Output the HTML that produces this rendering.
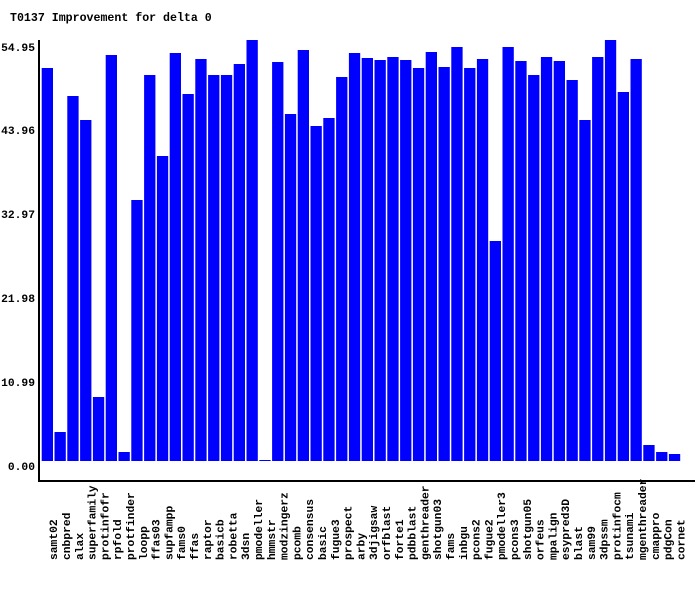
<!DOCTYPE html>
<html><head><meta charset="utf-8"><style>
html,body{margin:0;padding:0;background:#fff;}
svg{display:block;}
text{font-family:"Liberation Mono",monospace;font-weight:bold;fill:#000;}
</style></head><body>
<svg width="700" height="590" xmlns="http://www.w3.org/2000/svg">
<text x="10" y="21" font-size="11.6">T0137 Improvement for delta 0</text>
<g font-size="11.3" text-anchor="end">
<text x="35" y="51">54.95</text>
<text x="35" y="134">43.96</text>
<text x="35" y="218">32.97</text>
<text x="35" y="302">21.98</text>
<text x="35" y="386">10.99</text>
<text x="35" y="470">0.00</text>
</g>
<g fill="#0000ff">
<rect x="41.7" y="68" width="11.3" height="393"/>
<rect x="54.5" y="432" width="11.3" height="29"/>
<rect x="67.3" y="96" width="11.3" height="365"/>
<rect x="80.1" y="120" width="11.3" height="341"/>
<rect x="92.9" y="397" width="11.3" height="64"/>
<rect x="105.7" y="55" width="11.3" height="406"/>
<rect x="118.5" y="452" width="11.3" height="9"/>
<rect x="131.3" y="200" width="11.3" height="261"/>
<rect x="144.1" y="75" width="11.3" height="386"/>
<rect x="156.9" y="156" width="11.3" height="305"/>
<rect x="169.7" y="53" width="11.3" height="408"/>
<rect x="182.5" y="94" width="11.3" height="367"/>
<rect x="195.3" y="59" width="11.3" height="402"/>
<rect x="208.1" y="75" width="11.3" height="386"/>
<rect x="220.9" y="75" width="11.3" height="386"/>
<rect x="233.7" y="64" width="11.3" height="397"/>
<rect x="246.5" y="40" width="11.3" height="421"/>
<rect x="259.3" y="460" width="11.3" height="1"/>
<rect x="272.1" y="62" width="11.3" height="399"/>
<rect x="284.9" y="114" width="11.3" height="347"/>
<rect x="297.7" y="50" width="11.3" height="411"/>
<rect x="310.5" y="126" width="11.3" height="335"/>
<rect x="323.3" y="118" width="11.3" height="343"/>
<rect x="336.1" y="77" width="11.3" height="384"/>
<rect x="348.9" y="53" width="11.3" height="408"/>
<rect x="361.7" y="58" width="11.3" height="403"/>
<rect x="374.5" y="60" width="11.3" height="401"/>
<rect x="387.3" y="57" width="11.3" height="404"/>
<rect x="400.1" y="60" width="11.3" height="401"/>
<rect x="412.9" y="68" width="11.3" height="393"/>
<rect x="425.7" y="52" width="11.3" height="409"/>
<rect x="438.5" y="67" width="11.3" height="394"/>
<rect x="451.3" y="47" width="11.3" height="414"/>
<rect x="464.1" y="68" width="11.3" height="393"/>
<rect x="476.9" y="59" width="11.3" height="402"/>
<rect x="489.7" y="241" width="11.3" height="220"/>
<rect x="502.5" y="47" width="11.3" height="414"/>
<rect x="515.3" y="61" width="11.3" height="400"/>
<rect x="528.1" y="75" width="11.3" height="386"/>
<rect x="540.9" y="57" width="11.3" height="404"/>
<rect x="553.7" y="61" width="11.3" height="400"/>
<rect x="566.5" y="80" width="11.3" height="381"/>
<rect x="579.3" y="120" width="11.3" height="341"/>
<rect x="592.1" y="57" width="11.3" height="404"/>
<rect x="604.9" y="40" width="11.3" height="421"/>
<rect x="617.7" y="92" width="11.3" height="369"/>
<rect x="630.5" y="59" width="11.3" height="402"/>
<rect x="643.3" y="445" width="11.3" height="16"/>
<rect x="656.1" y="452" width="11.3" height="9"/>
<rect x="668.9" y="454" width="11.3" height="7"/>
</g>
<g font-size="11.3">
<text transform="translate(57.2,560) rotate(-90)">samt02</text>
<text transform="translate(70,560) rotate(-90)">cnbpred</text>
<text transform="translate(82.8,560) rotate(-90)">alax</text>
<text transform="translate(95.6,560) rotate(-90)">superfamily</text>
<text transform="translate(108.4,560) rotate(-90)">protinfofr</text>
<text transform="translate(121.2,560) rotate(-90)">rpfold</text>
<text transform="translate(134,560) rotate(-90)">protfinder</text>
<text transform="translate(146.8,560) rotate(-90)">loopp</text>
<text transform="translate(159.6,560) rotate(-90)">ffas03</text>
<text transform="translate(172.4,560) rotate(-90)">supfampp</text>
<text transform="translate(185.2,560) rotate(-90)">fams0</text>
<text transform="translate(198,560) rotate(-90)">ffas</text>
<text transform="translate(210.8,560) rotate(-90)">raptor</text>
<text transform="translate(223.6,560) rotate(-90)">basicb</text>
<text transform="translate(236.4,560) rotate(-90)">robetta</text>
<text transform="translate(249.2,560) rotate(-90)">3dsn</text>
<text transform="translate(262,560) rotate(-90)">pmodeller</text>
<text transform="translate(274.8,560) rotate(-90)">hmmstr</text>
<text transform="translate(287.6,560) rotate(-90)">modzingerz</text>
<text transform="translate(300.4,560) rotate(-90)">pcomb</text>
<text transform="translate(313.2,560) rotate(-90)">consensus</text>
<text transform="translate(326,560) rotate(-90)">basic</text>
<text transform="translate(338.8,560) rotate(-90)">fugue3</text>
<text transform="translate(351.6,560) rotate(-90)">prospect</text>
<text transform="translate(364.4,560) rotate(-90)">arby</text>
<text transform="translate(377.2,560) rotate(-90)">3djigsaw</text>
<text transform="translate(390,560) rotate(-90)">orfblast</text>
<text transform="translate(402.8,560) rotate(-90)">forte1</text>
<text transform="translate(415.6,560) rotate(-90)">pdbblast</text>
<text transform="translate(428.4,560) rotate(-90)">genthreader</text>
<text transform="translate(441.2,560) rotate(-90)">shotgun03</text>
<text transform="translate(454,560) rotate(-90)">fams</text>
<text transform="translate(466.8,560) rotate(-90)">inbgu</text>
<text transform="translate(479.6,560) rotate(-90)">pcons2</text>
<text transform="translate(492.4,560) rotate(-90)">fugue2</text>
<text transform="translate(505.2,560) rotate(-90)">pmodeller3</text>
<text transform="translate(518,560) rotate(-90)">pcons3</text>
<text transform="translate(530.8,560) rotate(-90)">shotgun05</text>
<text transform="translate(543.6,560) rotate(-90)">orfeus</text>
<text transform="translate(556.4,560) rotate(-90)">mpalign</text>
<text transform="translate(569.2,560) rotate(-90)">esypred3D</text>
<text transform="translate(582,560) rotate(-90)">blast</text>
<text transform="translate(594.8,560) rotate(-90)">sam99</text>
<text transform="translate(607.6,560) rotate(-90)">3dpssm</text>
<text transform="translate(620.4,560) rotate(-90)">protinfocm</text>
<text transform="translate(633.2,560) rotate(-90)">tsunami</text>
<text transform="translate(646,560) rotate(-90)">mgenthreader</text>
<text transform="translate(658.8,560) rotate(-90)">cmappro</text>
<text transform="translate(671.6,560) rotate(-90)">pdgCon</text>
<text transform="translate(684.4,560) rotate(-90)">cornet</text>
</g>
<rect x="38" y="40" width="2" height="442" fill="#000"/>
<rect x="38" y="480" width="657" height="2" fill="#000"/>
</svg>
</body></html>
